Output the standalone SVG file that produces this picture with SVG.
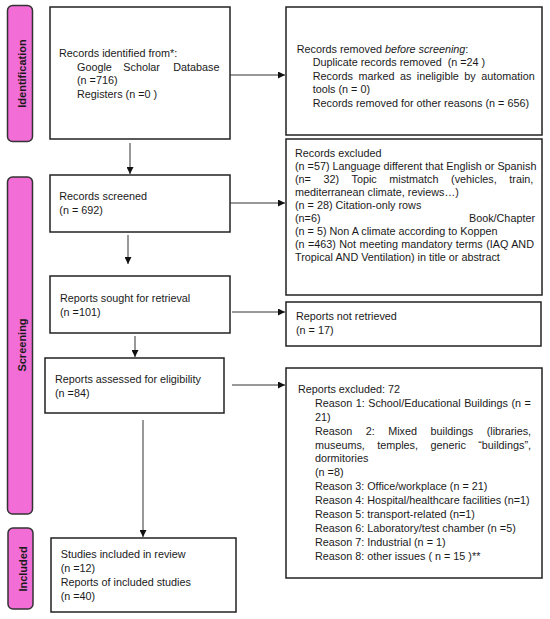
<svg xmlns="http://www.w3.org/2000/svg" width="550" height="619" viewBox="0 0 550 619">
<style>
text{font-family:"Liberation Sans",Arial,sans-serif;font-size:10.8px;fill:#1a1a1a}
.box{fill:#fff;stroke:#222;stroke-width:1.5}
.pill{fill:#F26DD6;stroke:#333;stroke-width:1.5}
.lab{font-weight:bold;font-size:11px;text-anchor:middle}
.conn line{stroke:#333;stroke-width:1}
.end{text-anchor:end}
</style>
<defs>
<marker id="ah" markerWidth="7" markerHeight="7" refX="7" refY="3.5" orient="auto" markerUnits="userSpaceOnUse"><path d="M0,0L7,3.5L0,7z" fill="#111"/></marker>
</defs>
<rect width="550" height="619" fill="#fff"/>

<g id="phase-identification">
<rect class="pill" x="7.5" y="5.5" width="25" height="136" rx="5"/>
<text class="lab" x="19.5" y="73.5" transform="rotate(-90 19.5 73.5) translate(0 6.5)">Identification</text>
</g>
<g id="phase-screening">
<rect class="pill" x="7.5" y="177" width="25" height="337" rx="5"/>
<text class="lab" x="19.5" y="345" transform="rotate(-90 19.5 345) translate(0 6.5)">Screening</text>
</g>
<g id="phase-included">
<rect class="pill" x="8" y="528" width="25" height="81" rx="5"/>
<text class="lab" x="20.5" y="569" transform="rotate(-90 20.5 569) translate(0 6)">Included</text>
</g>

<g id="identified">
<rect class="box" x="50" y="7" width="180" height="132"/>
<text x="59" y="56.5">Records identified from*:</text>
<text y="70.5"><tspan x="77">Google</tspan><tspan x="123.3">Scholar</tspan><tspan x="173.3">Database</tspan></text>
<text x="77" y="84">(n =716)</text>
<text x="77" y="98">Registers (n =0 )</text>
</g>

<g id="removed">
<rect class="box" x="286" y="7" width="256" height="128"/>
<text x="296.7" y="52.5">Records removed <tspan font-style="italic">before screening</tspan>:</text>
<text x="312.7" y="66" xml:space="preserve">Duplicate records removed  (n =24 )</text>
<text x="312.7" y="79.5" word-spacing="2.5">Records marked as ineligible by automation</text>
<text x="312.7" y="93">tools (n = 0)</text>
<text x="312.7" y="106.5">Records removed for other reasons (n = 656)</text>
</g>

<g id="screened">
<rect class="box" x="50" y="175" width="180" height="57"/>
<text x="59.3" y="200">Records screened</text>
<text x="59.3" y="214.3">(n = 692)</text>
</g>

<g id="excluded">
<rect class="box" x="286" y="139" width="256" height="156"/>
<text x="295" y="157.3">Records excluded</text>
<text x="295" y="170.3">(n =57) Language different that English or Spanish</text>
<text x="295" y="183.3" word-spacing="9.6">(n= 32) Topic mistmatch (vehicles, train,</text>
<text x="295" y="196.2">mediterranean climate, reviews…)</text>
<text x="295" y="209.1">(n = 28) Citation-only rows</text>
<text x="295" y="222">(n=6)</text>
<text class="end" x="535" y="222">Book/Chapter</text>
<text x="295" y="234.9">(n = 5) Non A climate according to Koppen</text>
<text x="295" y="247.8" word-spacing="0.4">(n =463) Not meeting mandatory terms (IAQ AND</text>
<text x="295" y="260.7">Tropical AND Ventilation) in title or abstract</text>
</g>

<g id="sought">
<rect class="box" x="50" y="276" width="180" height="57"/>
<text x="60" y="301.7">Reports sought for retrieval</text>
<text x="60" y="316">(n =101)</text>
</g>

<g id="not-retrieved">
<rect class="box" x="286" y="302" width="255" height="44"/>
<text x="296" y="320">Reports not retrieved</text>
<text x="296" y="334.3">(n = 17)</text>
</g>

<g id="assessed">
<rect class="box" x="45" y="358" width="179" height="55"/>
<text x="55" y="382.7">Reports assessed for eligibility</text>
<text x="55" y="396.7">(n =84)</text>
</g>

<g id="reports-excluded">
<rect class="box" x="286" y="368" width="256" height="210"/>
<text x="298" y="392.7">Reports excluded: 72</text>
<text x="315" y="406.6" word-spacing="0.5">Reason 1: School/Educational Buildings (n =</text>
<text x="315" y="420.6">21)</text>
<text x="315" y="434.5" word-spacing="10.5">Reason 2: Mixed buildings (libraries,</text>
<text x="315" y="448.5" word-spacing="9.4">museums, temples, generic “buildings”,</text>
<text x="315" y="462.4">dormitories</text>
<text x="315" y="476.3">(n =8)</text>
<text x="315" y="490.3">Reason 3: Office/workplace (n = 21)</text>
<text x="315" y="504.2">Reason 4: Hospital/healthcare facilities (n=1)</text>
<text x="315" y="518.2">Reason 5: transport-related (n=1)</text>
<text x="315" y="532.1">Reason 6: Laboratory/test chamber (n =5)</text>
<text x="315" y="546">Reason 7: Industrial (n = 1)</text>
<text x="315" y="560">Reason 8: other issues ( n = 15 )**</text>
</g>

<g id="included">
<rect class="box" x="51" y="538" width="185" height="74"/>
<text x="60.7" y="557.7">Studies included in review</text>
<text x="60.7" y="571.7">(n =12)</text>
<text x="60.7" y="585.7">Reports of included studies</text>
<text x="60.7" y="599.7">(n =40)</text>
</g>

<g id="connectors" class="conn">
<line x1="230" y1="75" x2="285" y2="75" marker-end="url(#ah)"/>
<line x1="130" y1="143" x2="130" y2="174" marker-end="url(#ah)"/>
<line x1="230" y1="203" x2="285" y2="203" marker-end="url(#ah)"/>
<line x1="128" y1="235" x2="128" y2="264" marker-end="url(#ah)"/>
<line x1="232" y1="312" x2="285" y2="312" marker-end="url(#ah)"/>
<line x1="135" y1="336" x2="135" y2="357" marker-end="url(#ah)"/>
<line x1="232" y1="385" x2="285" y2="385" marker-end="url(#ah)"/>
<line x1="143" y1="420" x2="143" y2="537" marker-end="url(#ah)"/>
</g>
</svg>
